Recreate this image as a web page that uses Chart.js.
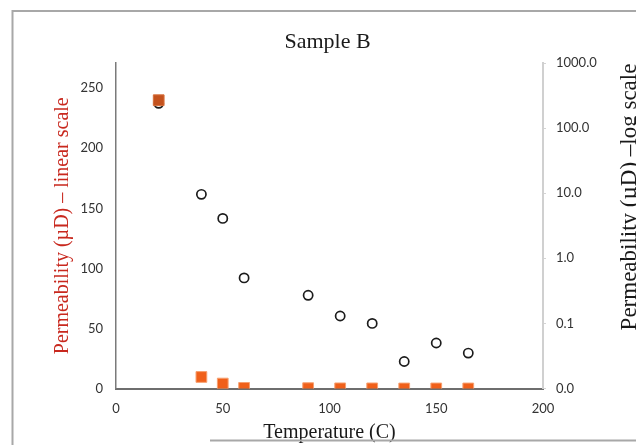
<!DOCTYPE html>
<html>
<head>
<meta charset="utf-8">
<script src="https://cdn.jsdelivr.net/npm/chart.js@4.4.1/dist/chart.umd.min.js"></script>
<style>
  html, body { margin: 0; padding: 0; background: #fff; }
  #wrap { width: 636px; height: 445px; position: relative; }
</style>
</head>
<body>
<div id="wrap"><canvas id="chart" width="636" height="445"></canvas></div>
<script>
// Sample B: permeability vs temperature, same readings on a linear and a log axis
var temperatures = [20, 40, 50, 60, 90, 105, 120, 135, 150, 165];
var permeability = [240, 9.6, 4.1, 0.5, 0.27, 0.13, 0.1, 0.026, 0.05, 0.035];

var xTicks = [0, 50, 100, 150, 200];
var linearTicks = [0, 50, 100, 150, 200, 250];
var logTicks = [0.01, 0.1, 1, 10, 100, 1000];
var logTickLabels = ['0.0', '0.1', '1.0', '10.0', '100.0', '1000.0'];

var serif = '"Liberation Serif", "DejaVu Serif", serif';
var sans = 'Lato, "Open Sans", sans-serif';

function points() {
  return temperatures.map(function(t, i) { return { x: t, y: permeability[i] }; });
}

// frame lines and the right-hand axis title (reads bottom to top)
var decorations = {
  id: 'decorations',
  afterDraw: function(chart) {
    var ctx = chart.ctx;
    ctx.save();
    ctx.strokeStyle = '#a8a8a8';
    ctx.lineWidth = 2;
    ctx.beginPath();
    ctx.moveTo(12.5, 445);
    ctx.lineTo(12.5, 11);
    ctx.lineTo(636, 11);
    ctx.stroke();
    ctx.beginPath();
    ctx.moveTo(210, 440.5);
    ctx.lineTo(636, 440.5);
    ctx.stroke();

    ctx.translate(636, 197);
    ctx.rotate(-Math.PI / 2);
    ctx.fillStyle = '#1a1a1a';
    ctx.font = '23px ' + serif;
    ctx.textAlign = 'center';
    ctx.textBaseline = 'alphabetic';
    ctx.fillText('Permeability (µD) \u2013log scale', 0, 0);
    ctx.restore();
  }
};

new Chart(document.getElementById('chart'), {
  type: 'scatter',
  data: {
    datasets: [
      {
        label: 'linear',
        data: points(),
        yAxisID: 'yLin',
        pointStyle: 'rect',
        pointRadius: 7.6,
        pointHoverRadius: 7.6,
        backgroundColor: function(c) { return c.dataIndex === 0 ? '#c4521e' : '#f0601a'; },
        borderColor: function(c) { return c.dataIndex === 0 ? '#d8703c' : '#f7a070'; },
        borderWidth: 1
      },
      {
        label: 'log',
        data: points(),
        yAxisID: 'yLog',
        pointStyle: 'circle',
        pointRadius: 4.6,
        pointHoverRadius: 4.6,
        backgroundColor: 'rgba(255,255,255,0)',
        borderColor: '#1c1c1c',
        borderWidth: 1.7
      }
    ]
  },
  options: {
    responsive: false,
    animation: false,
    layout: { padding: { left: 47, right: 28, top: 0, bottom: 0 } },
    plugins: {
      legend: { display: false },
      tooltip: { enabled: false },
      title: {
        display: true,
        text: 'Sample B',
        color: '#1a1a1a',
        font: { family: serif, size: 22, weight: 'normal' },
        padding: { top: 29, bottom: 7.6 }
      }
    },
    scales: {
      x: {
        type: 'linear',
        min: 0,
        max: 200,
        afterFit: function(s) { s.height = 56.5; },
        afterBuildTicks: function(s) { s.ticks = xTicks.map(function(v) { return { value: v }; }); },
        grid: { display: true, drawOnChartArea: false, drawTicks: false },
        border: { display: true, color: '#6e6e6e', width: 2 },
        ticks: { color: '#333', padding: 13, font: { family: sans, size: 13 } },
        title: {
          display: true,
          text: 'Temperature (C)',
          color: '#1a1a1a',
          font: { family: serif, size: 20 },
          padding: { top: 2, bottom: 0 }
        }
      },
      yLin: {
        type: 'linear',
        position: 'left',
        min: 0,
        max: 271,
        afterFit: function(s) { s.width = 116 - 47; },
        afterBuildTicks: function(s) { s.ticks = linearTicks.map(function(v) { return { value: v }; }); },
        grid: { display: true, drawOnChartArea: false, drawTicks: false },
        border: { display: true, color: '#7a7a7a', width: 1.5 },
        ticks: { color: '#333', padding: 13, font: { family: sans, size: 13 } },
        title: {
          display: true,
          text: 'Permeability (µD) \u2013 linear scale',
          color: '#c8281e',
          font: { family: serif, size: 20 },
          padding: { top: 4, bottom: 4 }
        }
      },
      yLog: {
        type: 'logarithmic',
        position: 'right',
        min: 0.01,
        max: 1000,
        afterFit: function(s) { s.width = 636 - 28 - 543; },
        afterBuildTicks: function(s) { s.ticks = logTicks.map(function(v) { return { value: v }; }); },
        grid: { display: true, drawOnChartArea: false, drawTicks: true, tickLength: 3, color: '#d4d4d4' },
        border: { display: true, color: '#d0d0d0', width: 2 },
        ticks: {
          color: '#333',
          padding: 10,
          font: { family: sans, size: 13 },
          callback: function(v) {
            var i = logTicks.indexOf(v);
            return i >= 0 ? logTickLabels[i] : '';
          }
        }
      }
    }
  },
  plugins: [decorations]
});
</script>
</body>
</html>
